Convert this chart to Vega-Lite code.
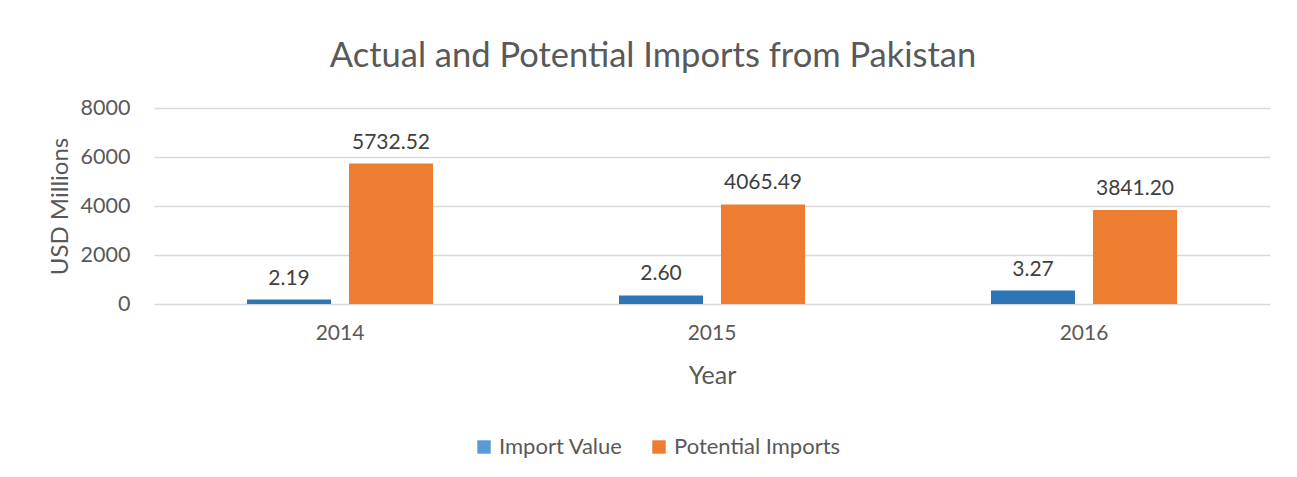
{
  "$schema": "https://vega.github.io/schema/vega-lite/v6.json",
  "width": 1116,
  "height": 196,
  "autosize": "none",
  "padding": {"left": 154, "top": 108, "right": 27, "bottom": 173},
  "background": "white",
  "config": {"font": "Lato", "view": {"stroke": null}},
  "title": {
    "text": "Actual and Potential Imports from Pakistan",
    "fontSize": 34.5,
    "fontWeight": "normal",
    "color": "#595959",
    "anchor": "middle",
    "dx": -59,
    "offset": 23
  },
  "data": {
    "values": [
      {"year": "2014", "series": "Import Value", "value": 180, "label": "2.19"},
      {"year": "2014", "series": "Potential Imports", "value": 5732.52, "label": "5732.52"},
      {"year": "2015", "series": "Import Value", "value": 350, "label": "2.60"},
      {"year": "2015", "series": "Potential Imports", "value": 4065.49, "label": "4065.49"},
      {"year": "2016", "series": "Import Value", "value": 550, "label": "3.27"},
      {"year": "2016", "series": "Potential Imports", "value": 3841.2, "label": "3841.20"}
    ]
  },
  "encoding": {
    "x": {
      "field": "year",
      "type": "nominal",
      "scale": {"paddingInner": 0.5, "paddingOuter": 0.25},
      "axis": {
        "labelAngle": 0,
        "labelFontSize": 21,
        "labelColor": "#595959",
        "labelPadding": 18,
        "domain": false,
        "ticks": false,
        "title": "Year",
        "titleFontSize": 25,
        "titleFontWeight": "normal",
        "titleColor": "#595959",
        "titlePadding": 20
      }
    },
    "xOffset": {
      "field": "series",
      "type": "nominal",
      "scale": {"domain": ["Import Value", "Potential Imports"], "paddingInner": 0.176, "paddingOuter": 0}
    },
    "y": {
      "field": "value",
      "type": "quantitative",
      "scale": {"domain": [0, 8000]},
      "axis": {
        "values": [0, 2000, 4000, 6000, 8000],
        "format": "d",
        "labelFontSize": 21.5,
        "labelColor": "#595959",
        "labelPadding": 24,
        "ticks": false,
        "domain": false,
        "gridColor": "#d9d9d9",
        "gridWidth": 1.5,
        "title": "USD Millions",
        "titleFontSize": 24,
        "titleFontWeight": "normal",
        "titleColor": "#595959",
        "titlePadding": 8
      }
    }
  },
  "layer": [
    {
      "mark": {"type": "bar", "strokeWidth": 0},
      "encoding": {
        "y": {"datum": 0},
        "color": {
          "field": "series",
          "type": "nominal",
          "scale": {"domain": ["Import Value", "Potential Imports"], "range": ["#5b9bd5", "#ed7d31"]},
          "legend": {
            "orient": "none",
            "legendX": 319,
            "legendY": 328,
            "direction": "horizontal",
            "title": null,
            "symbolType": "square",
            "symbolSize": 180,
            "symbolStrokeWidth": 0,
            "labelFontSize": 22,
            "labelColor": "#595959",
            "labelLimit": 400,
            "columnPadding": 25
          }
        }
      }
    },
    {
      "mark": {"type": "bar"},
      "encoding": {
        "fill": {
          "condition": {"test": "datum.series === 'Import Value'", "value": "#2e75b6"},
          "value": "#ed7d31"
        }
      }
    },
    {
      "mark": {"type": "text", "baseline": "alphabetic", "dy": -15, "fontSize": 21, "color": "#404040"},
      "encoding": {"text": {"field": "label"}}
    }
  ]
}
